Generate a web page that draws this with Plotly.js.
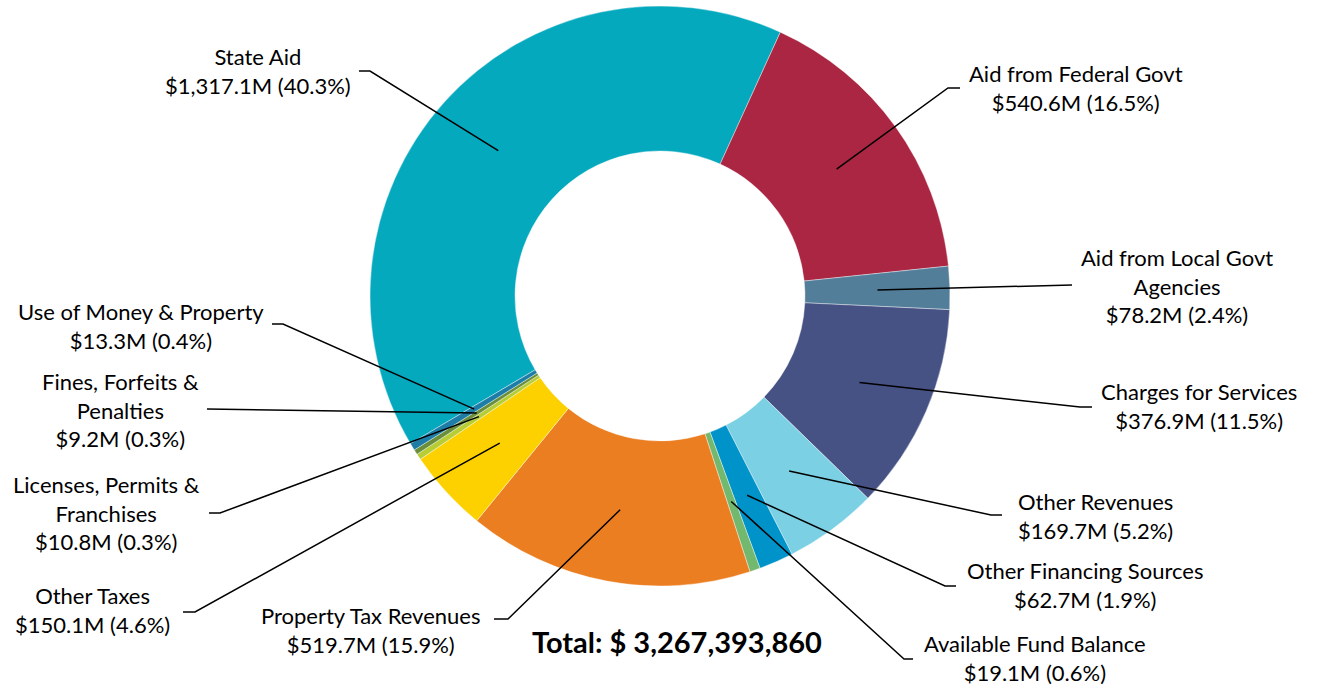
<!DOCTYPE html>
<html>
<head>
<meta charset="utf-8">
<script src="https://cdn.plot.ly/plotly-3.0.1.min.js"></script>
<style>
html,body{margin:0;padding:0;background:#fff;}
#chart{width:1319px;height:687px;}
</style>
</head>
<body>
<div id="chart"></div>
<script>
// ---- data ----
var categories = [
  "State Aid",
  "Aid from Federal Govt",
  "Aid from Local Govt<br>Agencies",
  "Charges for Services",
  "Other Revenues",
  "Other Financing Sources",
  "Available Fund Balance",
  "Property Tax Revenues",
  "Other Taxes",
  "Licenses, Permits &<br>Franchises",
  "Fines, Forfeits &<br>Penalties",
  "Use of Money & Property"
];
// values in millions of dollars
var valuesM = [1317.1, 540.6, 78.2, 376.9, 169.7, 62.7, 19.1, 519.7, 150.1, 10.8, 9.2, 13.3];
var totalAmount = 3267393860;

// ---- styles ----
var colors = ["#05A9BE", "#AB2642", "#537E9A", "#465284", "#7BD0E4", "#0093C9",
              "#72B96F", "#EB7E21", "#FDD100", "#B7CD35", "#6B8E3B", "#1E7DA6"];

var W = 1319, H = 687;
var domainX = [370 / W, 950 / W];
var domainY = [(H - 296 - 290) / H, (H - 296 + 290) / H];
var holeFrac = 0.5;
var rotationDeg = -120.6;

// label layout (pixel positions): elbow point, optional tick end, text center x, first line center y
var labelPos = [
  {ex: 370, ey: 71, tx: 359, cx: 258, cy: 56},
  {ex: 948, ey: 88, tx: 960, cx: 1076, cy: 73},
  {ex: 1072, ey: 285, tx: null, cx: 1177, cy: 256},
  {ex: 1080, ey: 407, tx: 1092, cx: 1199, cy: 391},
  {ex: 991, ey: 515, tx: 1002, cx: 1095, cy: 501},
  {ex: 945, ey: 586, tx: 956, cx: 1085, cy: 570},
  {ex: 904, ey: 659, tx: 913, cx: 1035, cy: 643},
  {ex: 508, ey: 619, tx: 494, cx: 370, cy: 615},
  {ex: 195, ey: 612, tx: 183, cx: 92, cy: 595},
  {ex: 220, ey: 513, tx: 209, cx: 107, cy: 483},
  {ex: 207, ey: 409, tx: null, cx: 120, cy: 380},
  {ex: 283, ey: 324, tx: 272, cx: 141, cy: 311}
];
var lineGap = 29.5;
var fontFamily = "Lato, 'Open Sans', sans-serif";

function fmtMoney(v) {
  var s = v.toFixed(1).split(".");
  s[0] = s[0].replace(/\B(?=(\d{3})+(?!\d))/g, ",");
  return "$" + s.join(".") + "M";
}
function px(x) { return x / W; }
function py(y) { return 1 - y / H; }

var sum = valuesM.reduce(function (a, b) { return a + b; }, 0);

// pie geometry
var pcx = (domainX[0] + domainX[1]) / 2 * W;
var pcy = H - (domainY[0] + domainY[1]) / 2 * H;
var R = Math.min((domainX[1] - domainX[0]) * W, (domainY[1] - domainY[0]) * H) / 2;
var rLead = R * (1 + holeFrac) / 2;

var shapes = [];
var annotations = [];
var cum = 0;
for (var i = 0; i < valuesM.length; i++) {
  var frac = valuesM[i] / sum;
  var midDeg = rotationDeg + (cum + frac / 2) * 360;
  cum += frac;
  var a = midDeg * Math.PI / 180;
  var ix = pcx + rLead * Math.sin(a);
  var iy = pcy - rLead * Math.cos(a);
  var L = labelPos[i];
  var path = "M" + px(ix) + "," + py(iy) + " L" + px(L.ex) + "," + py(L.ey);
  if (L.tx !== null) path += " L" + px(L.tx) + "," + py(L.ey);
  shapes.push({type: "path", xref: "paper", yref: "paper", path: path, layer: "above",
               line: {color: "#000000", width: 1.5}});
  var pct = (frac * 100).toFixed(1);
  var txt = categories[i] + "<br>" + fmtMoney(valuesM[i]) + " (" + pct + "%)";
  var nLines = txt.split("<br>").length;
  annotations.push({
    xref: "paper", yref: "paper", x: px(L.cx), y: py(L.cy + (nLines - 1) * lineGap / 2),
    xanchor: "center", yanchor: "middle", showarrow: false, align: "center",
    text: txt, font: {family: fontFamily, size: 22, color: "#000000"}
  });
}

var totalStr = totalAmount.toString().replace(/\B(?=(\d{3})+(?!\d))/g, ",");
annotations.push({
  xref: "paper", yref: "paper", x: px(677), y: py(641), xanchor: "center", yanchor: "middle",
  showarrow: false, text: "<b>Total: $ 3,267,393,860</b>".replace("3,267,393,860", totalStr),
  font: {family: fontFamily, size: 29, color: "#000000"}
});

var trace = {
  type: "pie",
  labels: categories,
  values: valuesM,
  marker: {colors: colors, line: {color: "#ffffff", width: 0.4}},
  hole: holeFrac,
  sort: false,
  direction: "clockwise",
  rotation: rotationDeg,
  textinfo: "none",
  hoverinfo: "label+value+percent",
  domain: {x: domainX, y: domainY},
  showlegend: false
};

var layout = {
  width: W, height: H,
  margin: {l: 0, r: 0, t: 0, b: 0},
  paper_bgcolor: "#ffffff",
  showlegend: false,
  shapes: shapes,
  annotations: annotations
};

Plotly.newPlot("chart", [trace], layout, {displayModeBar: false, staticPlot: true});
</script>
</body>
</html>
